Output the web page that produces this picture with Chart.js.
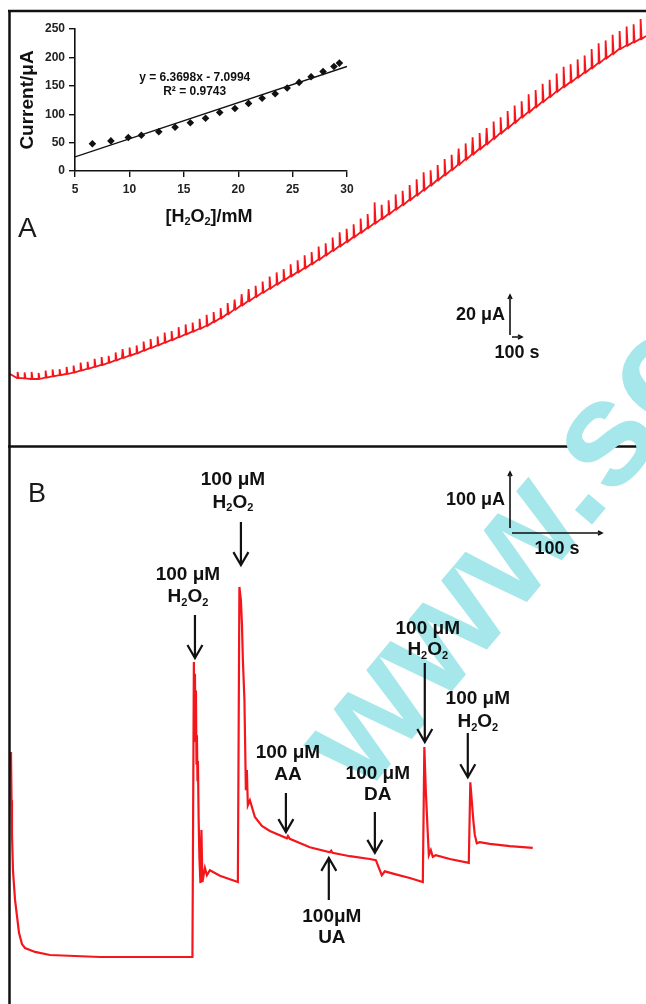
<!DOCTYPE html>
<html>
<head>
<meta charset="utf-8">
<script src="https://cdn.jsdelivr.net/npm/chart.js@4.4.0/dist/chart.umd.min.js"></script>
<style>
body { margin: 0; background: #fff; }
#wrap { position: relative; width: 646px; height: 1004px; overflow: hidden; }
canvas { position: absolute; }
#chartA { left: 0; top: 0; }
#chartB { left: 0; top: 447px; }
#inset { left: 10px; top: 15px; }
#frame { left: 0; top: 0; mix-blend-mode: multiply; pointer-events: none; }
</style>
</head>
<body>
<div id="wrap">
  <canvas id="chartA" width="646" height="447"></canvas>
  <canvas id="chartB" width="646" height="557"></canvas>
  <canvas id="inset" width="350" height="215"></canvas>
  <canvas id="frame" width="646" height="1004"></canvas>
</div>
<script>
var FONT = '"Liberation Sans", Arial, sans-serif';
var RED = 'rgb(245,22,28)';

//---- panel A: successive H2O2 additions (time in s, current in uA) ----
var injStart = 70;   //first addition
var injEvery = 70;   //time between additions
//current just before each addition
var baseA = [34.5, 34.3, 34, 34, 34.7, 35.3, 35.9, 36.5, 37.2, 38.2,
  39.1, 40.1, 41, 42.1, 43.3, 44.5, 45.7, 46.8, 48.2, 49.5,
  50.8, 52.2, 53.5, 54.9, 56.3, 57.7, 59.1, 60.6, 62.5, 64.4,
  66.5, 68.7, 70.9, 73, 75.1, 77.2, 79.2, 81.3, 83.4, 85.4,
  87.4, 89.4, 91.5, 93.7, 95.9, 98.2, 100.4, 102.6, 104.9, 107.2,
  109.5, 111.8, 114.1, 116.4, 118.8, 121.1, 123.5, 125.9, 128.4, 130.9,
  133.5, 136, 138.6, 141.2, 143.8, 146.4, 149, 151.5, 154.2, 156.9,
  159.5, 162.2, 164.9, 167.4, 170, 172.6, 175.1, 177.7, 180.1, 182.4,
  184.8, 187.2, 189.5, 191.9, 194.3, 196.6, 199, 200.7, 202.4, 204];
//height of the spike at each addition
var riseA = [3, 3, 3.5, 3, 3.5, 3.5, 3, 3.5, 3.5, 4,
  3.5, 4, 4, 3.5, 4, 4.5, 4, 4, 4.5, 4.5,
  4.5, 5, 4.5, 5, 5, 4.5, 5, 5.5, 5, 5,
  5.5, 5, 5.5, 6, 5.5, 5.5, 6, 6, 5.5, 6,
  6, 6.5, 6, 6.5, 6, 6.5, 7, 6.5, 6.5, 7,
  7, 10.5, 7, 7, 7.5, 7, 7.5, 8, 9, 7.5,
  7.5, 8, 7.5, 8, 8, 8.5, 8, 8, 8.5, 8,
  8.5, 8.5, 8, 9, 8.5, 9, 8.5, 9, 10, 9,
  9, 8.5, 9.5, 10, 9, 9.5, 9, 9.5, 9, 10];
var startA = {x: 0, y: 36.5};
var endA = {x: 6360, y: 205.5};

//---- inset: calibration ----
var h2o2mM = [6.6, 8.3, 9.9, 11.1, 12.7, 14.2, 15.6, 17.0, 18.3, 19.7, 20.95, 22.2, 23.4, 24.5, 25.6, 26.7, 27.8, 28.8, 29.3];
var currentUA = [48, 53, 59, 63, 69, 77, 85, 93, 103, 110, 119, 128, 136, 146, 156, 166, 175, 184, 190];
var fitX = [5, 30];
var fitY = [24.8, 184];

//---- panel B: interference test ----
var timeB = [1.1, 1.7, 2.2, 3.3, 5.6, 10, 13.3, 16.7, 27.8, 44.4, 100, 202.8,
  204.4, 205, 205.6, 206.2, 206.7, 207.3, 207.8, 208.4, 208.9, 209.7, 210.6, 211.7, 212.8, 213.9, 216.7, 218.9, 222.2, 233.3, 253.3,
  255, 256.7, 257.8, 258.9, 260.6, 262.2, 263.3, 264.4, 266.7, 272.2, 280, 288.9, 307.8, 309, 311,
  333.3, 355.6, 357, 358.5, 377.8, 400, 406.7, 413.3, 416.7, 427.8, 444.4, 458.9,
  460.6, 462.2, 464.4, 465.6, 467.8, 470, 473.3, 488.9, 510,
  511.7, 513.3, 515, 516.7, 518.9, 522.2, 533.3, 555.6, 581.1];
var currB = [450, 364, 305, 239, 186, 127, 107, 100, 93, 87.5, 84, 84,
  611, 520, 590, 470, 560, 430, 480, 400, 434, 330, 259, 216, 311, 218, 243, 230, 239, 229, 218,
  745, 721, 680, 614, 543, 382, 418, 355, 364, 334, 318, 309, 296, 300, 295,
  280, 271, 274, 270, 264, 259, 257, 230, 237, 232, 225, 218,
  459, 382, 305, 266, 275, 263, 266, 259, 252,
  396, 364, 329, 302, 287, 289, 286, 282, 279];
//additions marked on panel B (label lines, where the arrow points)
var notesB = [
  {lines: ['100 μM', 'H2O2'], labelT: 197.8, l1: 766, l2: 727, arrowT: 205.6, from: 695, to: 618},
  {lines: ['100 μM', 'H2O2'], labelT: 247.8, l1: 936, l2: 896, arrowT: 256.7, from: 861, to: 784},
  {lines: ['100 μM', 'AA'], labelT: 308.9, l1: 448, l2: 409, arrowT: 306.7, from: 377, to: 307},
  {lines: ['100μM', 'UA'], labelT: 357.8, l1: 155, l2: 118, arrowT: 354.4, from: 186, to: 261},
  {lines: ['100 μM', 'DA'], labelT: 408.9, l1: 412, l2: 373, arrowT: 405.6, from: 343, to: 270},
  {lines: ['100 μM', 'H2O2'], labelT: 464.4, l1: 671, l2: 632, arrowT: 461.1, from: 609, to: 468},
  {lines: ['100 μM', 'H2O2'], labelT: 520, l1: 546, l2: 504, arrowT: 508.9, from: 484, to: 405}
];

//text where a digit after a letter is written as a subscript (H2O2)
function drawSubText(ctx, str, cx, cy, size) {
  var parts = [];
  for (var i = 0; i < str.length; i++) {
    var ch = str[i];
    var sub = /[0-9]/.test(ch) && i > 0 && /[A-Za-z]/.test(str[i - 1]);
    parts.push({t: ch, sub: sub});
  }
  var big = 'bold ' + size + 'px ' + FONT;
  var small = 'bold ' + Math.round(size * 0.6) + 'px ' + FONT;
  var w = 0;
  parts.forEach(function(p) { ctx.font = p.sub ? small : big; p.w = ctx.measureText(p.t).width; w += p.w; });
  var x = cx - w / 2;
  ctx.textAlign = 'left';
  ctx.textBaseline = 'middle';
  parts.forEach(function(p) {
    ctx.font = p.sub ? small : big;
    ctx.fillText(p.t, x, p.sub ? cy + size * 0.3 : cy);
    x += p.w;
  });
}

function arrow(ctx, x, y0, y1) {
  var d = y1 > y0 ? 1 : -1;
  ctx.beginPath();
  ctx.moveTo(x, y0); ctx.lineTo(x, y1);
  ctx.moveTo(x - 7.5, y1 - d * 13); ctx.lineTo(x, y1); ctx.lineTo(x + 7.5, y1 - d * 13);
  ctx.stroke();
}

//small scale bars: lengths come from the chart's own scales
function scaleBar(chart, x0, yb, uA, sec, uaText, sText, head) {
  var ctx = chart.ctx, sx = chart.scales.x, sy = chart.scales.y;
  var hLen = sy.getPixelForValue(0) - sy.getPixelForValue(uA);
  var wLen = sx.getPixelForValue(sec) - sx.getPixelForValue(0);
  ctx.save();
  ctx.strokeStyle = '#111'; ctx.fillStyle = '#111'; ctx.lineWidth = 1.6;
  ctx.beginPath();
  ctx.moveTo(x0, yb); ctx.lineTo(x0, yb - hLen);
  ctx.moveTo(x0 + 2, yb + head); ctx.lineTo(x0 + 2 + wLen, yb + head);
  ctx.stroke();
  ctx.beginPath();
  ctx.moveTo(x0 - 2, yb - hLen + 4); ctx.lineTo(x0, yb - hLen); ctx.lineTo(x0 + 2, yb - hLen + 4);
  ctx.moveTo(x0 + wLen - 2, yb + head - 2); ctx.lineTo(x0 + 2 + wLen, yb + head); ctx.lineTo(x0 + wLen - 2, yb + head + 2);
  ctx.stroke();
  ctx.font = 'bold 18px ' + FONT;
  ctx.textAlign = 'right'; ctx.textBaseline = 'middle';
  ctx.fillText(uaText, x0 - 5, yb - hLen / 2);
  ctx.textAlign = 'center';
  ctx.fillText(sText, x0 + 2 + wLen / 2, yb + head + 16);
  ctx.restore();
}

var traceA = [startA];
baseA.forEach(function(b, k) {
  var t = injStart + k * injEvery;
  traceA.push({x: t, y: b}, {x: t + 6, y: b + riseA[k]}, {x: t + 16, y: b});
});
traceA.push(endA);

var panelA = new Chart(document.getElementById('chartA'), {
  type: 'scatter',
  data: {
    datasets: [{
      data: traceA,
      showLine: true,
      borderColor: RED,
      borderWidth: 1.8,
      pointRadius: 0
    }]
  },
  options: {
    responsive: false,
    animation: false,
    layout: {padding: {left: 10, top: 11, right: 0, bottom: 0}},
    plugins: {legend: {display: false}, tooltip: {enabled: false}},
    elements: {line: {tension: 0}},
    scales: {
      x: {type: 'linear', min: 0, max: 6360, display: false},
      y: {min: 0, max: 218, display: false}
    }
  },
  plugins: [{
    id: 'decorA',
    afterDraw: function(chart) {
      var ctx = chart.ctx;
      ctx.save();
      ctx.fillStyle = '#1a1a1a';
      ctx.font = '28px ' + FONT;
      ctx.textAlign = 'left'; ctx.textBaseline = 'alphabetic';
      ctx.fillText('A', 18, 237);
      ctx.restore();
      scaleBar(chart, 510, 335, 20, 100, '20 μA', '100 s', 2);
    }
  }]
});

var traceB = timeB.map(function(t, i) { return {x: t, y: currB[i]}; });

var panelB = new Chart(document.getElementById('chartB'), {
  type: 'scatter',
  data: {
    datasets: [{
      data: traceB,
      showLine: true,
      borderColor: RED,
      borderWidth: 2.2,
      pointRadius: 0
    }]
  },
  options: {
    responsive: false,
    animation: false,
    layout: {padding: {left: 10, top: 0, right: 0, bottom: 0}},
    plugins: {legend: {display: false}, tooltip: {enabled: false}},
    elements: {line: {tension: 0}},
    scales: {
      x: {type: 'linear', min: 0, max: 707, display: false},
      y: {min: 0, max: 995, display: false}
    }
  },
  plugins: [{
    id: 'decorB',
    afterDraw: function(chart) {
      var ctx = chart.ctx, sx = chart.scales.x, sy = chart.scales.y;
      ctx.save();
      ctx.fillStyle = '#1a1a1a';
      ctx.font = '27px ' + FONT;
      ctx.textAlign = 'left'; ctx.textBaseline = 'alphabetic';
      ctx.fillText('B', 28, 55);
      ctx.fillStyle = '#111'; ctx.strokeStyle = '#111'; ctx.lineWidth = 2.2;
      notesB.forEach(function(n) {
        var lx = sx.getPixelForValue(n.labelT);
        drawSubText(ctx, n.lines[0], lx, sy.getPixelForValue(n.l1), 19);
        drawSubText(ctx, n.lines[1], lx, sy.getPixelForValue(n.l2), 19);
        arrow(ctx, sx.getPixelForValue(n.arrowT), sy.getPixelForValue(n.from), sy.getPixelForValue(n.to));
      });
      ctx.restore();
      scaleBar(chart, 510, 81, 100, 100, '100 μA', '100 s', 5);
    }
  }]
});

var inset = new Chart(document.getElementById('inset'), {
  type: 'scatter',
  data: {
    datasets: [{
      data: h2o2mM.map(function(c, i) { return {x: c, y: currentUA[i]}; }),
      pointStyle: 'rectRot',
      pointRadius: 3.8,
      backgroundColor: '#111',
      borderColor: '#111',
      borderWidth: 0
    }, {
      data: fitX.map(function(c, i) { return {x: c, y: fitY[i]}; }),
      showLine: true,
      borderColor: '#111',
      borderWidth: 1.4,
      pointRadius: 0
    }]
  },
  options: {
    responsive: false,
    animation: false,
    layout: {padding: {left: 0, top: 14, right: 13, bottom: 0}},
    plugins: {legend: {display: false}, tooltip: {enabled: false}},
    scales: {
      x: {
        type: 'linear', min: 5, max: 30,
        afterFit: function(scale) { scale.height = 59; },
        grid: {drawOnChartArea: false, drawTicks: true, tickLength: 6, color: '#111', lineWidth: 1.4},
        border: {display: true, color: '#111', width: 1.6},
        ticks: {stepSize: 5, color: '#222', padding: 5, font: {family: FONT, size: 12, weight: 'bold'}}
      },
      y: {
        min: 0, max: 250,
        afterFit: function(scale) { scale.width = 65; },
        grid: {drawOnChartArea: false, drawTicks: true, tickLength: 6, color: '#111', lineWidth: 1.4},
        border: {display: true, color: '#111', width: 1.6},
        ticks: {stepSize: 50, color: '#222', padding: 4, font: {family: FONT, size: 12, weight: 'bold'}},
        title: {display: true, text: 'Current/μA', color: '#111', padding: {top: 6, bottom: 0},
          font: {family: FONT, size: 19, weight: 'bold'}}
      }
    }
  },
  plugins: [{
    id: 'insetText',
    afterDraw: function(chart) {
      var ctx = chart.ctx, sx = chart.scales.x, sy = chart.scales.y;
      ctx.save();
      ctx.fillStyle = '#111';
      ctx.font = 'bold 12px ' + FONT;
      ctx.textAlign = 'center'; ctx.textBaseline = 'middle';
      ctx.fillText('y = 6.3698x - 7.0994', sx.getPixelForValue(16), sy.getPixelForValue(165));
      ctx.fillText('R² = 0.9743', sx.getPixelForValue(16), sy.getPixelForValue(139));
      //x title with subscripts
      var parts = [['[H', 0], ['2', 1], ['O', 0], ['2', 1], [']/mM', 0]];
      var w = 0;
      parts.forEach(function(p) { ctx.font = 'bold ' + (p[1] ? 11 : 18) + 'px ' + FONT; p.w = ctx.measureText(p[0]).width; w += p.w; });
      var x = (chart.chartArea.left + chart.chartArea.right) / 2 - 2 - w / 2;
      ctx.textAlign = 'left';
      parts.forEach(function(p) {
        ctx.font = 'bold ' + (p[1] ? 11 : 18) + 'px ' + FONT;
        ctx.fillText(p[0], x, p[1] ? 207 : 202);
        x += p.w;
      });
      ctx.restore();
    }
  }]
});

//frame round the two panels and the watermark over the figure
var fr = document.getElementById('frame').getContext('2d');
fr.strokeStyle = '#111';
fr.lineWidth = 2.5;
fr.beginPath();
fr.moveTo(8, 11); fr.lineTo(646, 11);
fr.moveTo(9.5, 10); fr.lineTo(9.5, 1004);
fr.moveTo(8, 446.5); fr.lineTo(646, 446.5);
fr.stroke();
fr.save();
fr.translate(364, 796);
fr.rotate(-50 * Math.PI / 180);
fr.font = 'bold 150px ' + FONT;
fr.fillStyle = '#a6e7eb';
fr.fillText('www.sc', 0, 0);
fr.restore();
</script>
</body>
</html>
